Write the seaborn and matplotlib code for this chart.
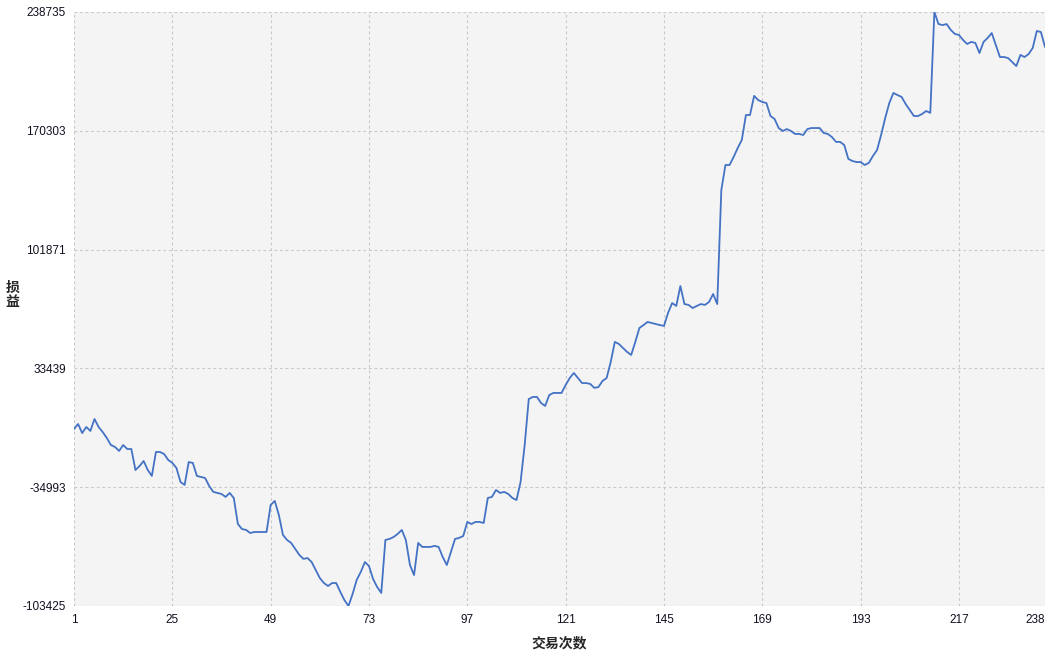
import matplotlib
matplotlib.use("Agg")
import matplotlib.pyplot as plt
import seaborn as sns
import pandas as pd

# cumulative profit/loss per trade
pnl = [
    -1500, 1400, -3800, -300, -2600, 4300, -300, -3200, -6600, -10700,
    -11800, -14100, -10700, -13000, -13000, -25100, -22800, -19900, -25100, -28500,
    -14700, -14700, -15900, -19300, -21000, -23900, -32000, -33700, -20500, -21000,
    -28500, -29100, -29700, -34300, -37700, -38300, -38900, -40600, -38300, -41200,
    -56200, -59100, -59600, -61400, -60800, -60800, -60800, -60800, -45200, -42900,
    -51000, -62500, -65400, -67100, -70600, -74000, -76300, -75800, -78100, -82700,
    -87300, -90200, -91900, -90200, -90200, -95300, -100000, -103425, -96500, -88400,
    -83800, -78100, -80400, -87900, -92500, -95900, -65400, -64800, -63700, -61900,
    -59600, -65400, -79800, -85600, -67100, -69400, -69400, -69400, -68800, -69400,
    -75200, -79800, -72300, -64800, -64200, -63100, -55000, -56200, -55000, -55000,
    -55600, -41200, -40600, -36600, -38300, -37700, -38900, -41200, -42400, -32000,
    -10700, 15800, 17000, 17000, 13500, 11800, 18100, 19300, 19300, 19300,
    23900, 27900, 30800, 27900, 25000, 25000, 24500, 22200, 22700, 26200,
    27900, 37100, 48700, 47500, 45200, 42900, 41200, 48700, 56700, 58400,
    60200, 59600, 59000, 58400, 57900, 65400, 71100, 69400, 80900, 70500,
    70000, 68200, 69400, 70500, 70000, 71700, 76300, 70500, 136200, 150600,
    150600, 155200, 160400, 165000, 179400, 179400, 190400, 188000, 186900, 186300,
    178800, 177100, 171900, 170200, 171300, 170200, 168500, 168500, 167900, 171300,
    171900, 171900, 171900, 169000, 168500, 166700, 163900, 163900, 162100, 154100,
    152900, 152300, 152300, 150600, 151800, 155800, 159200, 167900, 177700, 186300,
    192100, 190900, 189800, 185700, 182300, 178800, 178800, 180000, 181700, 180600,
    238735, 231800, 231200, 231800, 228400, 226100, 225500, 222600, 220300, 221500,
    220900, 215100, 221500, 223800, 226600, 219700, 212800, 212800, 212200, 209900,
    207600, 214000, 212800, 214500, 218000, 227800, 227200, 218600,
]
trade_no = list(range(1, len(pnl) + 1))

x_ticks = [1, 25, 49, 73, 97, 121, 145, 169, 193, 217, 238]
y_ticks = [-103425, -34993, 33439, 101871, 170303, 238735]

sns.set_style("white")
plt.rcParams["font.family"] = ["Liberation Sans", "Noto Sans CJK SC", "DejaVu Sans"]

df = pd.DataFrame({"trade": trade_no, "pnl": pnl})

fig = plt.figure(figsize=(10.63, 6.57), dpi=100)
ax = fig.add_axes([74 / 1063, 1 - 606 / 657, (1045 - 74) / 1063, (606 - 12) / 657])
ax.set_facecolor("#f4f4f4")

sns.lineplot(data=df, x="trade", y="pnl", ax=ax, color="#4472c4", linewidth=1.3)

ax.set_xlim(1, len(pnl))
ax.set_ylim(min(y_ticks), max(y_ticks))
ax.set_xticks(x_ticks)
ax.set_yticks(y_ticks)
ax.set_xticklabels([str(t) for t in x_ticks])
ax.set_yticklabels([str(t) for t in y_ticks])
ax.get_xticklabels()[-1].set_horizontalalignment("right")
ax.tick_params(length=0, labelsize=8.5, labelcolor="#101020", pad=6)

# short dashed grid like the original
ax.grid(True, color="#c8c8c8", linestyle=(0, (2.5, 2.5)), linewidth=0.8)
for s in ax.spines.values():
    s.set_visible(False)

ax.set_xlabel("")
ax.set_ylabel("")
fig.text(559 / 1063, 1 - 643 / 657, "交易次数", ha="center", va="center",
         fontsize=10, fontweight="bold", family=["Noto Sans CJK SC", "DejaVu Sans"])
fig.text(12.5 / 1063, 1 - 295 / 657, "损\n益", ha="center", va="center",
         fontsize=10, fontweight="bold", linespacing=1.0,
         family=["Noto Sans CJK SC", "DejaVu Sans"])

fig.savefig("out.png", dpi=100, facecolor="white")
